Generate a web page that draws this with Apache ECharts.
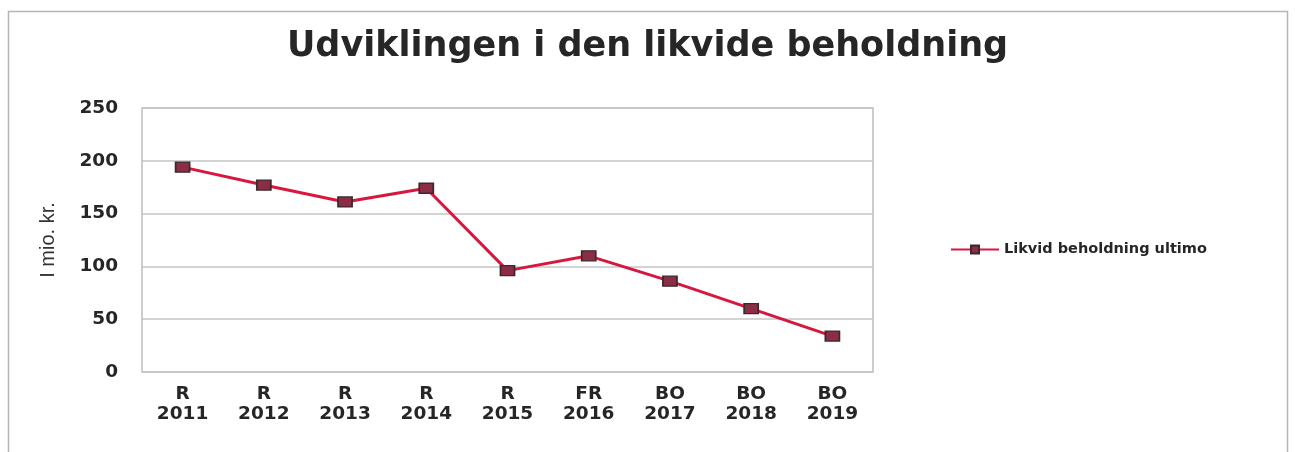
<!DOCTYPE html>
<html>
<head>
<meta charset="utf-8">
<script src="https://cdn.jsdelivr.net/npm/echarts@6/dist/echarts.min.js"></script>
<style>
  html, body { margin: 0; padding: 0; background: #fff; }
  #chart { width: 1295px; height: 452px; }
</style>
</head>
<body>
<div id="chart"></div>
<script>
// 数据
const categories = ['R\n2011', 'R\n2012', 'R\n2013', 'R\n2014', 'R\n2015', 'FR\n2016', 'BO\n2017', 'BO\n2018', 'BO\n2019']
const likvidValues = [194, 177, 161, 174, 96, 110, 86, 60, 34]
const seriesName = 'Likvid beholdning ultimo'

const boldFont = 'DejaVu Sans, Liberation Sans, sans-serif'

const chart = echarts.init(document.getElementById('chart'))

const option = {
  backgroundColor: '#fff',
  animation: false,
  textStyle: { fontFamily: boldFont },
  title: {
    text: 'Udviklingen i den likvide beholdning',
    left: 'center',
    top: 24,
    textStyle: { fontSize: 35, fontWeight: 'bold', color: '#262626', fontFamily: boldFont }
  },
  // ydre ramme
  graphic: [{
    type: 'rect',
    shape: { x: 8.5, y: 11.5, width: 1279, height: 460 },
    style: { fill: 'none', stroke: '#b5b5b5', lineWidth: 1.5 },
    silent: true
  }],
  legend: {
    left: 945,
    top: 237,
    itemWidth: 48,
    itemHeight: 10,
    itemGap: 6,
    data: [seriesName],
    textStyle: { fontSize: 14.5, fontWeight: 'bold', color: '#262626', fontFamily: boldFont }
  },
  grid: {
    left: 142,
    top: 108,
    width: 731,
    height: 264,
    show: true,
    borderColor: '#bdbdbd',
    borderWidth: 1.5
  },
  xAxis: {
    type: 'category',
    data: categories,
    boundaryGap: true,
    axisLine: { show: false },
    axisTick: { show: false },
    axisLabel: {
      margin: 12,
      fontSize: 18.5,
      fontWeight: 'bold',
      color: '#262626',
      lineHeight: 20,
      fontFamily: boldFont
    }
  },
  yAxis: {
    type: 'value',
    min: 0,
    max: 250,
    interval: 50,
    name: 'I mio. kr.',
    nameLocation: 'middle',
    nameGap: 84,
    nameRotate: 90,
    nameTextStyle: { fontSize: 20, color: '#333', fontFamily: 'Liberation Sans Narrow, Liberation Sans, sans-serif' },
    axisLine: { show: false },
    axisTick: { show: false },
    axisLabel: { margin: 24, fontSize: 18.5, fontWeight: 'bold', color: '#262626', fontFamily: boldFont },
    splitLine: { lineStyle: { color: '#c4c4c4', width: 1.5 } }
  },
  series: [{
    name: seriesName,
    type: 'line',
    data: likvidValues,
    symbol: 'rect',
    symbolSize: [14, 10],
    itemStyle: { color: '#8c2c45', borderColor: '#3a2a2e', borderWidth: 1.5 },
    lineStyle: { color: '#d8173f', width: 3 }
  }]
}

chart.setOption(option)
</script>
</body>
</html>
